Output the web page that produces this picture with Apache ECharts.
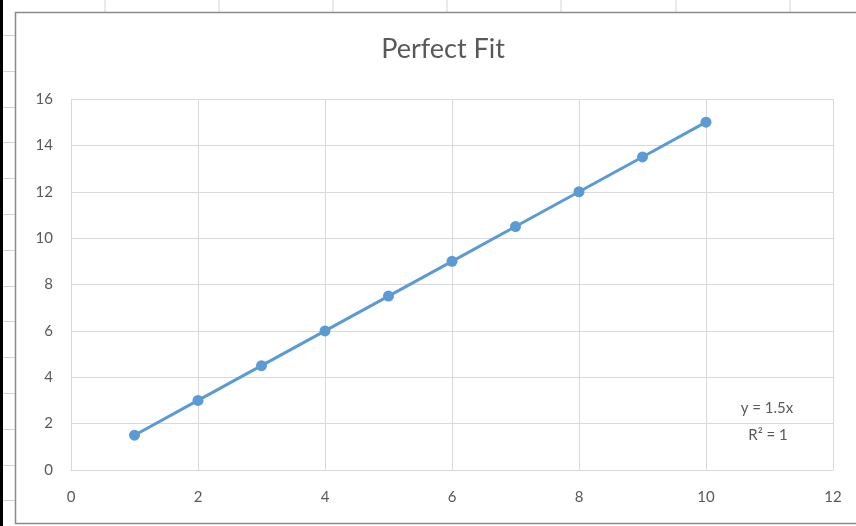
<!DOCTYPE html>
<html>
<head>
<meta charset="utf-8">
<script src="https://cdn.jsdelivr.net/npm/echarts@6/dist/echarts.min.js"></script>
<style>
  html, body { margin: 0; padding: 0; background: #fff; }
  #chart { width: 856px; height: 526px; }
</style>
</head>
<body>
<div id="chart"></div>
<script>
// data
var xValues = [1, 2, 3, 4, 5, 6, 7, 8, 9, 10];
var yValues = [1.5, 3, 4.5, 6, 7.5, 9, 10.5, 12, 13.5, 15];
var titleText = 'Perfect Fit';
var trendLines = ['y = 1.5x', 'R² = 1'];

var points = xValues.map(function (x, i) { return [x, yValues[i]]; });

// spreadsheet cells behind the chart
var deco = [];
deco.push({ type: 'rect', shape: { x: 0, y: 0, width: 3, height: 526 }, style: { fill: '#000' }, z: 0 });
[105, 219, 333, 447, 561, 676, 790].forEach(function (cx) {
    deco.push({ type: 'line', shape: { x1: cx, y1: 0, x2: cx, y2: 12 }, style: { stroke: '#d4d4d4', lineWidth: 1 }, z: 0 });
});
for (var ry = 35; ry < 526; ry += 35.8) {
    var yy = Math.round(ry) + 0.5;
    deco.push({ type: 'line', shape: { x1: 3, y1: yy, x2: 15, y2: yy }, style: { stroke: '#d4d4d4', lineWidth: 1 }, z: 0 });
}
deco.push({ type: 'rect', shape: { x: 15.5, y: 12.5, width: 900, height: 511 }, style: { fill: 'none', stroke: '#8a8a8a', lineWidth: 1.5 }, z: 1 });
deco.push({ type: 'text', x: 767, y: 401, style: { text: trendLines[0], fill: '#595959', font: '15px Lato', align: 'center' }, z: 5 });
deco.push({ type: 'text', x: 768, y: 428, style: { text: trendLines[1], fill: '#595959', font: '15px Lato', align: 'center' }, z: 5 });

var chart = echarts.init(document.getElementById('chart'));
chart.setOption({
    animation: false,
    backgroundColor: '#fff',
    title: {
        text: titleText,
        left: 438,
        top: 31,
        textAlign: 'center',
        textStyle: { fontFamily: 'Lato', fontSize: 27, fontWeight: 'normal', color: '#595959' }
    },
    grid: { left: 71, right: 23, top: 99, bottom: 56 },
    xAxis: {
        type: 'value',
        min: 0, max: 12, interval: 2,
        axisLine: { show: true, lineStyle: { color: '#d9d9d9' } },
        axisTick: { show: false },
        axisLabel: { color: '#595959', fontFamily: 'Lato', fontSize: 15, margin: 20 },
        splitLine: { show: true, lineStyle: { color: '#d9d9d9' } }
    },
    yAxis: {
        type: 'value',
        min: 0, max: 16, interval: 2,
        axisLine: { show: false },
        axisTick: { show: false },
        axisLabel: { color: '#595959', fontFamily: 'Lato', fontSize: 15, margin: 18 },
        splitLine: { show: true, lineStyle: { color: '#d9d9d9' } }
    },
    graphic: deco,
    series: [{
        type: 'line',
        data: points,
        symbol: 'circle',
        symbolSize: 11,
        lineStyle: { color: '#5b9bd5', width: 3 },
        itemStyle: { color: '#5b9bd5' }
    }]
});
</script>
</body>
</html>
